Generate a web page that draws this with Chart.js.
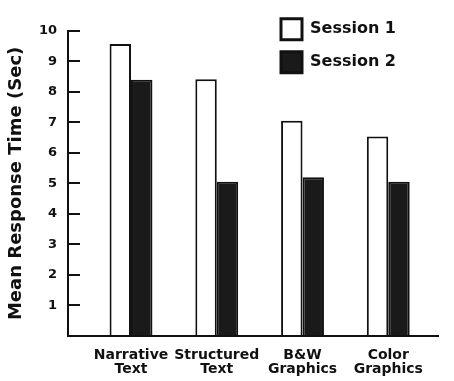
<!DOCTYPE html>
<html>
<head>
<meta charset="utf-8">
<script src="https://cdn.jsdelivr.net/npm/chart.js@4/dist/chart.umd.min.js"></script>
<style>
  html, body { margin: 0; padding: 0; background: #fff; }
  canvas { display: block; }
</style>
</head>
<body>
<canvas id="c" width="454" height="381"></canvas>
<script>
const categories = [['Narrative', 'Text'], ['Structured', 'Text'], ['B&W', 'Graphics'], ['Color', 'Graphics']];
const session1 = [9.57, 8.41, 7.05, 6.54];
const session2 = [8.40, 5.05, 5.20, 5.05];
const seriesNames = ['Session 1', 'Session 2'];
const yTickLabels = ['', '1', '2', '3', '4', '5', '6', '7', '8', '9', '10'];

const INK = '#111111';
const FONT = "'DejaVu Sans', sans-serif";

const legendPlacer = {
  id: 'legendPlacer',
  afterLayout(chart) {
    const lg = chart.legend, ca = chart.chartArea;
    if (!lg) return;
    const w = lg.width, h = lg.height;
    lg.left = ca.left + 201;
    lg.top = ca.top - 24;
    lg.right = lg.left + w;
    lg.bottom = lg.top + h;
  }
};

new Chart(document.getElementById('c'), {
  type: 'bar',
  data: {
    datasets: [
      {
        label: seriesNames[0],
        data: session1.map((v, i) => ({ x: i, y: v })),
        backgroundColor: '#ffffff',
        borderColor: INK,
        borderWidth: 2
      },
      {
        label: seriesNames[1],
        data: session2.map((v, i) => ({ x: i, y: v })),
        backgroundColor: '#1a1a1a',
        borderColor: INK,
        borderWidth: 2
      }
    ]
  },
  options: {
    responsive: false,
    animation: false,
    categoryPercentage: 0.5,
    barPercentage: 1.0,
    layout: { padding: { left: 0, right: 16, top: 21, bottom: 0 } },
    plugins: {
      tooltip: { enabled: false },
      legend: {
        position: 'chartArea',
        align: 'start',
        labels: {
          boxWidth: 21,
          boxHeight: 21,
          padding: 12,
          color: INK,
          font: { family: FONT, size: 16, weight: 'bold' },
          generateLabels: (chart) =>
            Chart.defaults.plugins.legend.labels.generateLabels(chart).map(l => Object.assign(l, { lineWidth: 3 }))
        }
      }
    },
    scales: {
      x: {
        type: 'linear',
        position: 'bottom',
        min: -0.735,
        max: 3.58,
        offset: false,
        grid: { display: false, drawTicks: false },
        border: { display: true, color: INK, width: 2 },
        afterBuildTicks: (s) => { s.ticks = categories.map((_, i) => ({ value: i })); },
        afterFit: (s) => { s.height = 45; },
        ticks: {
          autoSkip: false,
          maxRotation: 0,
          minRotation: 0,
          includeBounds: false,
          padding: 12,
          color: INK,
          font: { family: FONT, size: 14, weight: 'bold', lineHeight: 1.0 },
          callback: (v) => categories[v] || ''
        }
      },
      y: {
        position: 'left',
        min: 0,
        max: 10,
        grid: {
          display: true,
          drawOnChartArea: false,
          drawTicks: true,
          tickLength: -12,
          color: INK,
          lineWidth: 2
        },
        border: { display: true, color: INK, width: 2 },
        afterFit: (s) => { s.width = 68; },
        ticks: {
          stepSize: 1,
          padding: 23,
          color: INK,
          font: { family: FONT, size: 13, weight: 'bold' },
          callback: (v) => yTickLabels[v] !== undefined ? yTickLabels[v] : ''
        },
        title: {
          display: true,
          text: 'Mean Response Time (Sec)',
          color: INK,
          padding: { top: 6, bottom: 0 },
          font: { family: FONT, size: 18, weight: 'bold' }
        }
      }
    }
  },
  plugins: [legendPlacer]
});
</script>
</body>
</html>
